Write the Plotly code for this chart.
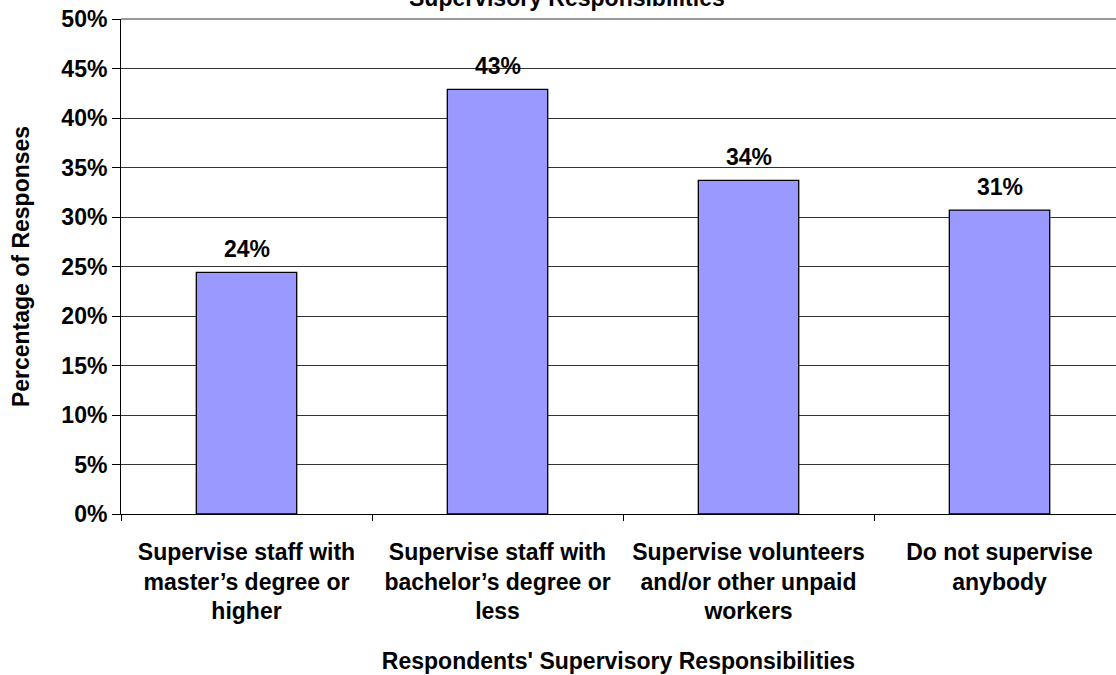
import plotly.graph_objects as go

categories = [
    "Supervise staff with<br>master\u2019s degree or<br>higher",
    "Supervise staff with<br>bachelor\u2019s degree or<br>less",
    "Supervise volunteers<br>and/or other unpaid<br>workers",
    "Do not supervise<br>anybody",
]
values = [0.244, 0.429, 0.337, 0.307]
labels = ["24%", "43%", "34%", "31%"]

FONT = "Arial, Liberation Sans, sans-serif"
FS = 23
BF = dict(family=FONT, size=FS, color="#000", weight="bold")

fig = go.Figure()
fig.add_trace(go.Bar(
    x=categories, y=values, width=0.4,
    marker=dict(color="#9999FF", line=dict(color="#000000", width=1.3)),
    hoverinfo="skip",
))
for c, v, t in zip(categories, values, labels):
    fig.add_annotation(x=c, y=v, text=t, showarrow=False,
                       yanchor="bottom", yshift=8, font=BF)

fig.add_annotation(xref="paper", yref="paper", x=0.448, y=1.042,
                   text="Supervisory Responsibilities", showarrow=False,
                   yanchor="middle", font=BF)
fig.add_shape(type="line", xref="paper", yref="paper", x0=0, x1=1, y0=1, y1=1,
              line=dict(color="#999999", width=2))

fig.update_layout(
    width=1116, height=675,
    margin=dict(l=121, r=0, t=19, b=161),
    plot_bgcolor="white", paper_bgcolor="white",
    showlegend=False,
    font=BF,
    xaxis=dict(
        type="category", range=[-0.5, 3.464], tickson="boundaries",
        ticks="outside", ticklen=6, tickcolor="#000", tickwidth=1,
        showline=True, linecolor="#000", linewidth=1, showgrid=False,
        tickfont=BF, automargin=False,
        ticklabelstandoff=17,
        title=dict(text="Respondents' Supervisory Responsibilities",
                   font=BF, standoff=29),
    ),
    yaxis=dict(
        range=[0, 0.5], dtick=0.05, tickformat=".0%",
        ticks="outside", ticklen=8, tickcolor="#000", tickwidth=1,
        showline=True, linecolor="#000", linewidth=1,
        showgrid=True, gridcolor="#333333", gridwidth=1, zeroline=False,
        tickfont=BF, automargin=False, ticklabeloverflow="allow",
        title=dict(text="Percentage of Responses", font=BF, standoff=25),
    ),
)
fig.write_html("out.html", config={"displayModeBar": False},
               post_script="document.body.style.margin='0';document.body.style.overflow='hidden';")
